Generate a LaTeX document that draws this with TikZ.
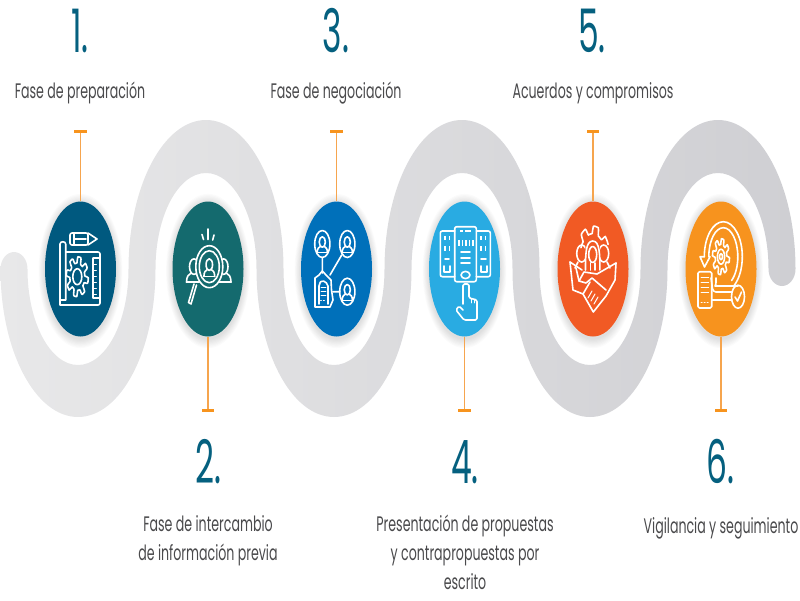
\documentclass[tikz,border=0pt]{standalone}
\usepackage{fontspec}
\usetikzlibrary{shapes.geometric}
\newfontfamily\labelfont[FakeStretch=0.60]{Poppins}
\newfontfamily\numberfont[FakeStretch=0.55]{Poppins}
\definecolor{ribleft}{HTML}{E8E8E9}
\definecolor{ribright}{HTML}{CFCFD3}
\definecolor{numcol}{HTML}{05607F}
\definecolor{txtcol}{HTML}{4A4A4C}
\definecolor{tickcol}{HTML}{F7941E}
\definecolor{stemcol}{HTML}{F6A54E}
\definecolor{colA}{HTML}{00597F}
\definecolor{colB}{HTML}{146A6E}
\definecolor{colC}{HTML}{0070BA}
\definecolor{colD}{HTML}{29ABE2}
\definecolor{colE}{HTML}{F15A24}
\definecolor{colF}{HTML}{F7931E}
\tikzset{
  disc/.style={ellipse,minimum width=71pt,minimum height=135pt,inner sep=0pt},
  stem/.style={stemcol,line width=1.2pt},
  tickmark/.style={fill=tickcol,minimum width=12.5pt,minimum height=3.2pt,inner sep=0pt},
  numlabel/.style={numcol,anchor=base,inner sep=0pt,font=\numberfont\fontsize{60}{60}\selectfont},
  steplabel/.style={txtcol,anchor=base,align=center,inner sep=0pt,font=\labelfont\fontsize{21}{29}\selectfont},
  iconline/.style={white,line width=1.6pt,line join=round,line cap=round},
  person/.pic={
    \draw[iconline] (0,-3.5) ellipse[x radius=3.6,y radius=6.2];
    \draw[iconline] (-6,9) .. controls (-6,4) and (-4,2.5) .. (-2.2,1.6);
    \draw[iconline] (6,9) .. controls (6,4) and (4,2.5) .. (2.2,1.6);
    \draw[iconline] (-6,9) -- (6,9);
  },
  gear/.pic={
    \draw[iconline] plot[domain=0:360,samples=121] (\x:{.84+.16*max(-1,min(1,3*sin(8*\x)))}) -- cycle;
  },
}
\begin{document}
\begin{tikzpicture}[x=1pt,y=-1pt]
\useasboundingbox (0,0) rectangle (800,600);
% the grey ribbon
\shade[left color=ribleft,right color=ribright] (0.5,269)
  arc[start angle=180,end angle=360,x radius=13.5,y radius=17]
  arc[start angle=180,end angle=0,x radius=50.5,y radius=96]
  arc[start angle=180,end angle=360,x radius=77.5,y radius=149]
  arc[start angle=180,end angle=0,x radius=50.5,y radius=96]
  arc[start angle=180,end angle=360,x radius=77.5,y radius=149]
  arc[start angle=180,end angle=0,x radius=50.5,y radius=96]
  arc[start angle=180,end angle=360,x radius=77.5,y radius=149]
  arc[start angle=0,end angle=180,x radius=13.5,y radius=17]
  arc[start angle=360,end angle=180,x radius=50.5,y radius=96]
  arc[start angle=0,end angle=180,x radius=77.5,y radius=148]
  arc[start angle=360,end angle=180,x radius=50.5,y radius=96]
  arc[start angle=0,end angle=180,x radius=77.5,y radius=148]
  arc[start angle=360,end angle=180,x radius=50.5,y radius=96]
  arc[start angle=0,end angle=180,x radius=77.5,y radius=148]
  -- cycle;
% the discs with their soft shadows, stems and ticks
\foreach \n/\cx/\col/\ty in {1/80.5/colA/131.5,2/208/colB/410.5,3/336.5/colC/131.5,4/464.5/colD/410.5,5/593/colE/131.5,6/721/colF/410.5}{
  \foreach \s in {1,...,8}
    \fill[black,opacity=.014] (\cx,271) ellipse[x radius={35.5+.8*\s},y radius={67.5+1.2*\s}];
  \node[disc,fill=\col] (c\n) at (\cx,269) {};
  \node[tickmark] (t\n) at (\cx,\ty) {};
  \draw[stem] (c\n) -- (t\n);
}
% the numbers
\node[numlabel] (n1) at (80,52) {1.};
\node[numlabel] (n2) at (208,483) {2.};
\node[numlabel] (n3) at (336,52) {3.};
\node[numlabel] (n4) at (465,483) {4.};
\node[numlabel] (n5) at (592,52) {5.};
\node[numlabel] (n6) at (720,483) {6.};
% the labels
\node[steplabel] (l1) at (80,98) {Fase de preparación};
\node[steplabel] (l3) at (336,98) {Fase de negociación};
\node[steplabel] (l5) at (593,98) {Acuerdos y compromisos};
\node[steplabel,anchor=north] (l2) at (208,515) {Fase de intercambio\\de información previa};
\node[steplabel,anchor=north] (l4) at (465,515) {Presentación de propuestas\\y contrapropuestas por\\escrito};
\node[steplabel] (l6) at (721,533) {Vigilancia y seguimiento};
% icon 1: blueprint
\draw[iconline,rounded corners=2pt] (70,233) rectangle (88,245);
\draw[iconline] (88,233) -- (97,239) -- (88,245) (74,233) -- (74,245) (74,239) -- (86,239);
\draw[iconline,rounded corners=2pt] (65.7,252) -- (100,252) -- (100,305) -- (62,305) .. controls (60,305) and (60,300) .. (60,298) -- (60,246) .. controls (60,241) and (65.7,241) .. (65.7,246) -- (65.7,298) .. controls (65.7,300) and (63,300) .. (61,300);
\draw[iconline] (93,258) -- (100,258) (93,258) -- (93,298) -- (100,298);
\foreach \y in {264,270,...,294}
  \draw[iconline,line width=.9pt] (93,\y) -- (96.5,\y);
\pic[xscale=11,yscale=20] at (77.3,276.7) {gear};
\draw[iconline] (77.3,276.7) ellipse[x radius=4.5,y radius=8];
% icon 2: magnifying glass
\pic[xscale=1.25,yscale=1.25] at (194,271) {person};
\pic[xscale=1.25,yscale=1.25] at (223.5,271) {person};
\fill[colB] (209.3,266.7) ellipse[x radius=14,y radius=21.5];
\draw[iconline] (209.3,266.7) ellipse[x radius=13.5,y radius=21];
\draw[iconline] (209.3,266.7) ellipse[x radius=10,y radius=16];
\pic[yscale=.95,xscale=.9] at (209.3,268) {person};
\draw[iconline] (196.5,285) -- (191,304) -- (188.5,302.5) -- (194,284);
\draw[iconline] (208,229) -- (208,239.5) (202,234.5) -- (203.5,239.5) (214,235) -- (212.7,240);
% icon 3: people and document
\foreach \px/\py in {322.3/244,347.3/244,347.3/291.7}{
  \draw[iconline] (\px,\py) ellipse[x radius=7.6,y radius=13.5];
  \pic[xscale=.85,yscale=.85] at (\px,\py+1) {person};
}
\draw[iconline] (322.3,257.5) -- (322.3,273) (341.7,255) -- (330,275) (333,291.7) -- (339.7,291.7);
\draw[iconline] (315,307) -- (315,278) -- (319,275) -- (322.3,271) -- (327,276) -- (331,280) -- (331.5,290) -- (333,300) -- (330,307) -- cycle;
\draw[iconline,rounded corners=2pt] (319,304) -- (319,284) -- (322,280) -- (328,284) -- (328,304);
\foreach \y in {287,291,295}
  \draw[iconline,line width=.9pt] (321,\y) -- (326,\y);
\draw[iconline,line width=.9pt,dotted] (320.5,300) -- (326,300);
% icon 4: panels and hand
\draw[iconline,rounded corners=2pt] (454.7,231) -- (440.3,231) -- (440.3,276.7) -- (454.7,276.7);
\draw[iconline,rounded corners=2pt] (476.3,231) -- (490.3,231) -- (490.3,276.7) -- (476.3,276.7);
\draw[iconline,rounded corners=2pt] (454.7,226.7) rectangle (476.3,281.7);
\foreach \px in {445,449.5,481,485.5}{
  \draw[iconline,line width=1.1pt,line cap=butt] (\px,236) -- (\px,240) (\px,246) -- (\px,251);
}
\draw[iconline,line width=1.1pt,line cap=butt] (460,231) -- (463,231) (465,231) -- (471,231);
\foreach \px in {459,462.5,466,469.5,473}
  \draw[iconline,line width=1.1pt,line cap=butt] (\px,240) -- (\px,246);
\foreach \y in {252,258,263}
  \draw[iconline] (461,\y) -- (470,\y);
\draw[iconline] (465.5,275) ellipse[x radius=4.5,y radius=3.6];
\draw[iconline] (445,259) -- (449,259) (481,259) -- (486,259);
\draw[iconline] (444,272) -- (444,266) (450,266) -- (450,272) (444,272) -- (450,272);
\draw[iconline] (481,272) -- (481,266) (487,266) -- (487,272) (481,272) -- (487,272);
\draw[iconline,rounded corners=1.5pt] (463,304) -- (463,284) -- (469,284) -- (469,298) -- (477,300) -- (477,320) -- (464,320) -- (456,310) -- (459,306) -- (463,310);
\draw[iconline,line width=.9pt] (471.5,299) -- (471.5,303) (474.5,299.5) -- (474.5,303);
% icon 5: handshake and team
\draw[iconline] plot[domain=205:335,samples=61] ({592.7+17*(.88+.12*max(-1,min(1,3*sin(8*\x))))*cos(\x)},{258+32*(.88+.12*max(-1,min(1,3*sin(8*\x))))*sin(\x)});
\draw[iconline] (581.7,253.5) ellipse[x radius=5,y radius=8.5];
\draw[iconline] (603.7,253.5) ellipse[x radius=5,y radius=8.5];
\draw[iconline] (578,262) -- (575,268) (607,262) -- (610,268);
\fill[colE] (592.7,252) ellipse[x radius=7.6,y radius=15];
\draw[iconline] (585.5,270) .. controls (585.5,255) and (585.5,241) .. (592.7,241) .. controls (599.9,241) and (599.9,255) .. (599.9,270);
\draw[iconline] (592.7,254.5) ellipse[x radius=4,y radius=8];
\draw[iconline] (590.5,263) -- (590.5,270) (595,263) -- (595,270);
\draw[iconline] (570,262) -- (582,270) (616,263) -- (597,274) -- (584,272) -- (579,281) -- (586,283) -- (592,278) -- (606,290);
\draw[iconline] (570,262) -- (573,290) -- (583,294) -- (593.3,312) -- (606,296) -- (615,280) -- (616,263);
\draw[iconline] (576,268) -- (579,281) (583,294) -- (590,282);
\foreach \k in {0,1,2}
  \draw[iconline,line width=1pt] ({588+3*\k},{298+3*\k}) -- ({592+3*\k},{291+3*\k});
% icon 6: process with check
\pic[xscale=8.5,yscale=18] at (721,256.7) {gear};
\draw[iconline] (721,256.7) ellipse[x radius=3.6,y radius=7.5];
\draw[iconline] (721,256.7) ellipse[x radius=1.5,y radius=3];
\draw[iconline] (704.3,256.7) arc[start angle=180,end angle=415,x radius=19,y radius=35];
\draw[iconline] (708.8,256.7) arc[start angle=180,end angle=415,x radius=14.5,y radius=29];
\draw[iconline] (700,256.7) -- (704.3,256.7) (708.8,256.7) -- (710,256.7) -- (704.5,267) -- (700,256.7);
\draw[iconline,rounded corners=3pt] (711,278) -- (713,292) -- (732,292) (716,278) .. controls (716,284) and (716,286) .. (718,286) -- (738,286);
\draw[iconline] (712,300) -- (732,300);
\draw[iconline] (738,296.7) ellipse[x radius=6.5,y radius=11.5];
\draw[iconline] (735,297) -- (737.5,301) -- (741.5,292);
\draw[iconline,rounded corners=1.5pt] (698,271.7) rectangle (711.7,308);
\foreach \y in {277,282,287,292}
  \draw[iconline,line width=1pt] (701,\y) -- (708.5,\y);
\draw[iconline,line width=1pt,dotted] (701,302) -- (708.5,302);
\end{tikzpicture}
\end{document}
